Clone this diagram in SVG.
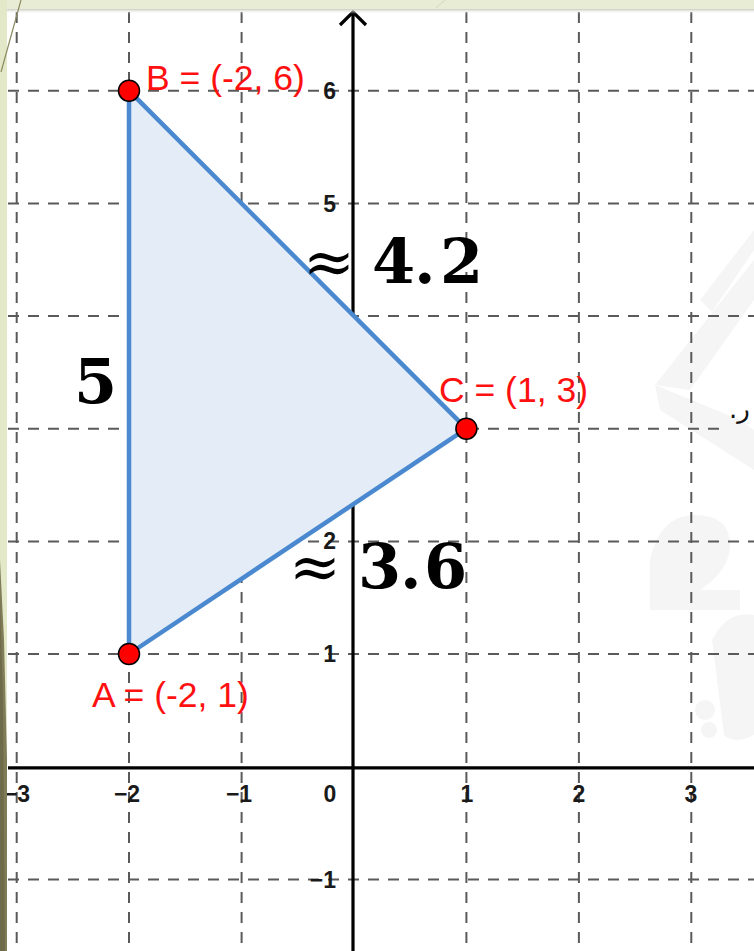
<svg xmlns="http://www.w3.org/2000/svg" width="754" height="951" viewBox="0 0 754 951">
  <defs>
    <linearGradient id="shadow" x1="0" y1="0" x2="0" y2="1">
      <stop offset="0" stop-color="#c8cbbf"/>
      <stop offset="1" stop-color="#ffffff" stop-opacity="0"/>
    </linearGradient>
  </defs>
  <style>
    .grid { stroke: #5a5a5a; stroke-width: 2; stroke-dasharray: 11 9; fill: none; }
    .axis { stroke: #000; stroke-width: 3.2; fill: none; }
    .tick { font-family: "Liberation Sans", Arial, sans-serif; font-size: 23px; font-weight: bold; fill: #1a1a1a; }
    .ylab { text-anchor: end; }
    .xlab { text-anchor: middle; }
    .ptlab { font-family: "Liberation Sans", Arial, sans-serif; font-size: 35.5px; fill: #ff1010; }
    .pt { fill: #ff0000; stroke: #000; stroke-width: 1.5; }
    .big { font-family: "DejaVu Serif", "Liberation Serif", serif; font-size: 62px; font-weight: bold; fill: #000; }
    .approx { font-weight: normal; }
    .wm { fill: #f5f5f5; }
  </style>

  <!-- background -->
  <rect x="0" y="0" width="754" height="951" fill="#ffffff"/>

  <!-- faint watermark -->
  <g id="watermark">
    <polygon class="wm" points="655,385 754,260 754,300 690,390"/>
    <polygon class="wm" points="700,300 754,230 754,250 712,312"/>
    <polygon class="wm" points="655,385 740,420 754,430 754,470 660,410"/>
    <path class="wm" d="M650,560 q10,-45 45,-45 q35,0 35,30 q0,25 -30,45 l40,0 l0,20 l-90,0 z"/>
    <path class="wm" d="M712,640 q15,-30 42,-25 l0,120 q-20,10 -30,0 z"/>
    <circle class="wm" cx="705" cy="710" r="10"/>
    <circle class="wm" cx="709" cy="730" r="8"/>
  </g>

  <!-- grid -->
  <g id="grid">
    <line class="grid" x1="16.7" y1="12" x2="16.7" y2="951"/>
    <line class="grid" x1="129" y1="12" x2="129" y2="951"/>
    <line class="grid" x1="241.6" y1="12" x2="241.6" y2="951"/>
    <line class="grid" x1="466.4" y1="12" x2="466.4" y2="951"/>
    <line class="grid" x1="578.9" y1="12" x2="578.9" y2="951"/>
    <line class="grid" x1="691.3" y1="12" x2="691.3" y2="951"/>
    <line class="grid" x1="8" y1="90.7" x2="754" y2="90.7"/>
    <line class="grid" x1="8" y1="203.4" x2="754" y2="203.4"/>
    <line class="grid" x1="8" y1="316" x2="754" y2="316"/>
    <line class="grid" x1="8" y1="428.7" x2="722" y2="428.7"/>
    <line class="grid" x1="8" y1="541.4" x2="754" y2="541.4"/>
    <line class="grid" x1="8" y1="654" x2="754" y2="654"/>
    <line class="grid" x1="8" y1="879.5" x2="754" y2="879.5"/>
  </g>

  <!-- axes -->
  <g id="axes">
    <line class="axis" x1="353" y1="12" x2="353" y2="951"/>
    <polyline class="axis" points="340,25 353,12 366,25" stroke-width="3.5" stroke-linejoin="miter"/>
    <line class="axis" x1="8" y1="767.8" x2="754" y2="767.8"/>
  </g>

  <!-- tick labels -->
  <g id="ticks">
    <text class="tick ylab" x="336" y="99">6</text>
    <text class="tick ylab" x="336" y="212">5</text>
    <text class="tick ylab" x="336" y="324">4</text>
    <text class="tick ylab" x="336" y="437">3</text>
    <text class="tick ylab" x="336" y="549">2</text>
    <text class="tick ylab" x="336" y="662">1</text>
    <text class="tick ylab" x="336" y="888">−1</text>
    <text class="tick xlab" x="17" y="802">−3</text>
    <text class="tick xlab" x="127" y="802">−2</text>
    <text class="tick xlab" x="239" y="802">−1</text>
    <text class="tick xlab" x="330" y="802">0</text>
    <text class="tick xlab" x="467" y="802">1</text>
    <text class="tick xlab" x="579" y="802">2</text>
    <text class="tick xlab" x="691" y="802">3</text>
  </g>

  <!-- connectors: triangle sides -->
  <g id="connectors">
    <polygon points="129,654 129,90.7 466.4,428.7" fill="#e4ecf7" stroke="none"/>
    <line x1="129" y1="654" x2="129" y2="90.7" stroke="#4a89cf" stroke-width="4.5"/>
    <line x1="129" y1="90.7" x2="466.4" y2="428.7" stroke="#4a89cf" stroke-width="4.5"/>
    <line x1="466.4" y1="428.7" x2="129" y2="654" stroke="#4a89cf" stroke-width="4.5"/>
  </g>

  <!-- nodes -->
  <g id="node-B">
    <circle class="pt" cx="129" cy="90.7" r="10.5"/>
    <text class="ptlab" x="146" y="90">B = (-2, 6)</text>
  </g>
  <g id="node-A">
    <circle class="pt" cx="129" cy="654" r="10.5"/>
    <text class="ptlab" x="92" y="707">A = (-2, 1)</text>
  </g>
  <g id="node-C">
    <circle class="pt" cx="466.4" cy="428.7" r="10.5"/>
    <text class="ptlab" x="439" y="402">C = (1, 3)</text>
  </g>

  <!-- side lengths -->
  <g id="len-AB">
    <text class="big" x="74" y="403">5</text>
  </g>
  <g id="len-BC">
    <text class="big" y="283"><tspan class="approx" x="303">≈</tspan><tspan x="372">4</tspan><tspan x="414">.</tspan><tspan x="440">2</tspan></text>
  </g>
  <g id="len-AC">
    <text class="big" y="588"><tspan class="approx" x="289">≈</tspan><tspan x="358">3</tspan><tspan x="400">.</tspan><tspan x="424">6</tspan></text>
  </g>

  <!-- stray glyph at right edge -->
  <text x="729" y="418" font-family="'DejaVu Sans', 'Noto Sans', sans-serif" font-size="26" fill="#111">.ر</text>

  <!-- slide frame decoration -->
  <g id="frame">
    <rect x="0" y="0" width="754" height="9" fill="#e8ecd5"/>
    <rect x="0" y="9" width="754" height="5" fill="url(#shadow)"/>
    <rect x="0" y="0" width="7" height="951" fill="#e3e9c8"/>
    <line x1="21" y1="0" x2="1" y2="72" stroke="#8a8a60" stroke-width="1.2"/>
    <line x1="445" y1="0" x2="436" y2="8" stroke="#d2d6bc" stroke-width="1"/>
    <polygon points="0,560 4,640 7,760 7,951 0,951" fill="#807c58"/>
    <polygon points="0,600 3,700 5,951 0,951" fill="#6e6b4a"/>
  </g>
</svg>
